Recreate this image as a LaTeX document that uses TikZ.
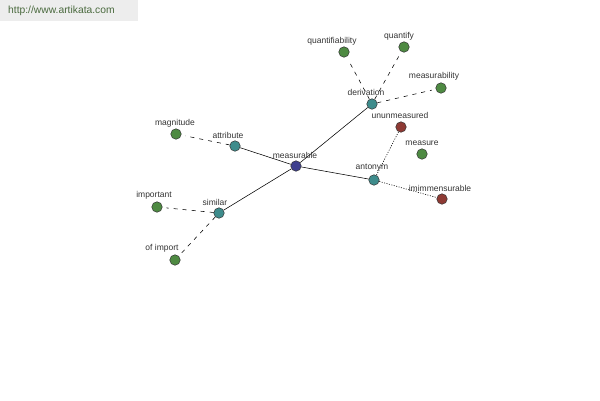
\documentclass[tikz,border=0pt]{standalone}
\usepackage{fontspec}
\setmainfont{Liberation Sans}
\definecolor{cgreen}{HTML}{4E8A42}
\definecolor{cteal}{HTML}{3E8C8C}
\definecolor{cblue}{HTML}{3E3F8E}
\definecolor{cred}{HTML}{8E3A34}
\definecolor{ctxt}{HTML}{333333}
\definecolor{cwm}{HTML}{4A6A3E}
\begin{document}
\begin{tikzpicture}[x=1pt,y=-1pt,
  dot/.style={circle,draw=black!80,line width=0.5pt,minimum size=10.5pt,inner sep=0pt},
  gdot/.style={dot,fill=cgreen},
  tdot/.style={dot,fill=cteal},
  bdot/.style={dot,fill=cblue},
  rdot/.style={dot,fill=cred},
  lbl/.style={font=\fontsize{8.5}{9}\selectfont,text=ctxt,inner sep=0pt},
  solidedge/.style={line width=0.55pt,black},
  dashededge/.style={line width=0.55pt,black,dash pattern=on 4pt off 5pt,shorten >=4pt},
  dottededge/.style={line width=0.6pt,black,dash pattern=on 1pt off 1.5pt}]
\useasboundingbox (0,0) rectangle (600,400);
\fill[black!7] (0,0) rectangle (138,21);
\node[font=\fontsize{10.3}{11}\selectfont,text=cwm,anchor=west,inner sep=0pt] (wm) at (8,11) {http://www.artikata.com};

% nodes
\node[bdot] (measurable) at (296,166) {};
\node[tdot] (attribute) at (235,146) {};
\node[gdot] (magnitude) at (176,134) {};
\node[tdot] (similar) at (219,213) {};
\node[gdot] (important) at (157,207) {};
\node[gdot] (ofimport) at (175,260) {};
\node[tdot] (derivation) at (372,104) {};
\node[gdot] (quantifiability) at (344,52) {};
\node[gdot] (quantify) at (404,47) {};
\node[gdot] (measurability) at (441,88) {};
\node[tdot] (antonym) at (374,180) {};
\node[rdot] (ununmeasured) at (401,127) {};
\node[gdot] (measure) at (422,154) {};
\node[rdot] (immeasurable) at (442,199) {};

% edges
\draw[solidedge] (measurable) -- (attribute);
\draw[solidedge] (measurable) -- (similar);
\draw[solidedge] (measurable) -- (derivation);
\draw[solidedge] (measurable) -- (antonym);
\draw[dashededge] (attribute) -- (magnitude);
\draw[dashededge] (similar) -- (important);
\draw[dashededge] (similar) -- (ofimport);
\draw[dashededge] (derivation) -- (quantifiability);
\draw[dashededge] (derivation) -- (quantify);
\draw[dashededge] (derivation) -- (measurability);
\draw[dottededge] (antonym) -- (ununmeasured);
\draw[dottededge] (antonym) -- (immeasurable);

% labels
\node[lbl] (l1) at (295,155) {measurable};
\node[lbl] (l2) at (228,135) {attribute};
\node[lbl] (l3) at (175,123) {magnitude};
\node[lbl] (l4) at (215,202) {similar};
\node[lbl] (l5) at (154,195) {important};
\node[lbl] (l6) at (162,248) {of import};
\node[lbl] (l7) at (366,92) {derivation};
\node[lbl] (l8) at (332,41) {quantifiability};
\node[lbl] (l9) at (399,36) {quantify};
\node[lbl] (l10) at (434,76) {measurability};
\node[lbl] (l11) at (400,115) {ununmeasured};
\node[lbl] (l12) at (422,143) {measure};
\node[lbl] (l13) at (372,168) {antonym};
\node[lbl] (l14) at (440,188) {imimmensurable};
\end{tikzpicture}
\end{document}
